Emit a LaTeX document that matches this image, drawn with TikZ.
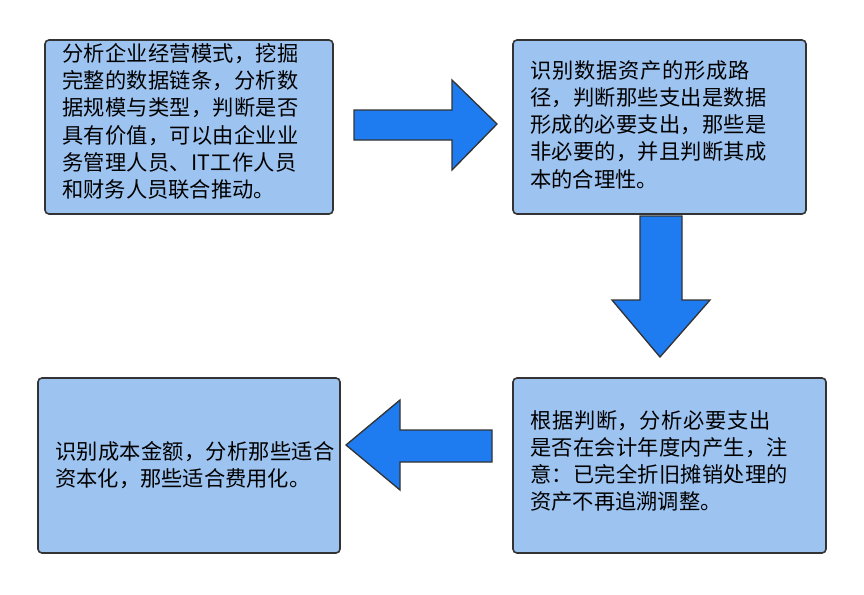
\documentclass[tikz,border=0pt]{standalone}
\usepackage{fontspec}
\newfontfamily\cjk{Noto Sans CJK SC}
\XeTeXlinebreaklocale "zh"
\XeTeXlinebreakskip=0pt plus 1pt
\tikzset{
  stepbox/.style={draw=black!80,line width=1.2pt,rounded corners=3pt,
    fill={rgb,255:red,157;green,195;blue,240}},
  steptext/.style={anchor=north west,align=left,inner sep=0pt,
    font=\cjk\fontsize{16}{20.5}\selectfont},
  bigarrow/.style={draw=black!80,line width=1pt,fill={rgb,255:red,30;green,124;blue,240}}
}
\begin{document}
\begin{tikzpicture}[x=0.02646cm,y=-0.02646cm]
\useasboundingbox (0,0) rectangle (864,594);
% boxes
\draw[stepbox] (45,40) rectangle (333,214);
\node[steptext,text width=184pt] (analyse) at (62,43)
  {分析企业经营模式，挖掘完整的数据链条，分析数据规模与类型，判断是否具有价值，可以由企业业务管理人员、IT工作人员和财务人员联合推动。};
\draw[stepbox] (513,40) rectangle (806,214);
\node[steptext,text width=184pt] (identify) at (530,60)
  {识别数据资产的形成路径，判断那些支出是数据形成的必要支出，那些是非必要的，并且判断其成本的合理性。};
\draw[stepbox] (513,378) rectangle (826,553);
\node[steptext,text width=200pt] (judge) at (530,410)
  {根据判断，分析必要支出是否在会计年度内产生，注意：已完全折旧摊销处理的资产不再追溯调整。};
\draw[stepbox] (38,378) rectangle (340,553);
\node[steptext,text width=216pt] (amount) at (55,441)
  {识别成本金额，分析那些适合资本化，那些适合费用化。};
% arrows
\draw[bigarrow] (354,110) -- (452,110) -- (452,80) -- (497,124) -- (452,170) -- (452,140) -- (354,140) -- cycle;
\draw[bigarrow] (640,216) -- (682,216) -- (682,300) -- (710,300) -- (660,357) -- (612,300) -- (640,300) -- cycle;
\draw[bigarrow] (492,430) -- (400,430) -- (400,400) -- (346,445) -- (400,490) -- (400,462) -- (492,462) -- cycle;
\end{tikzpicture}
\end{document}
